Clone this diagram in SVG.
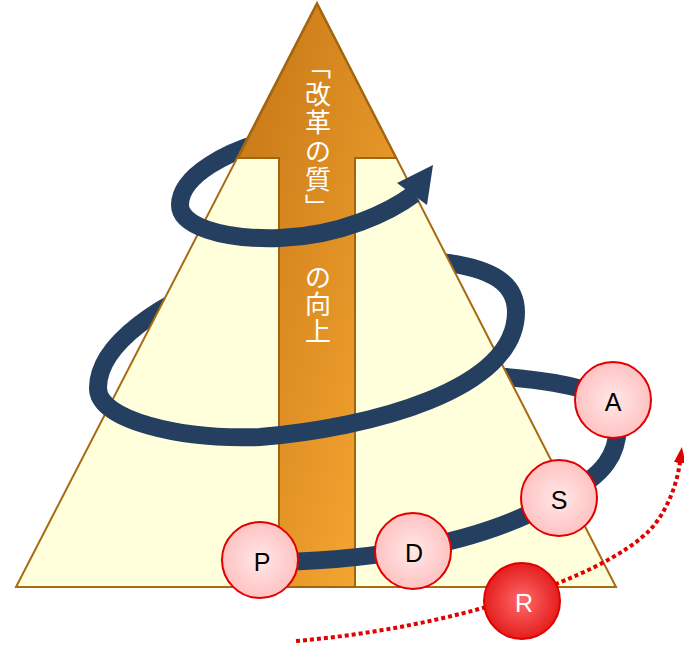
<svg xmlns="http://www.w3.org/2000/svg" width="684" height="653" viewBox="0 0 684 653">
<style>
.band{fill:none;stroke:#243F60;stroke-width:18;stroke-linecap:butt}
.node{stroke:#E00000;stroke-width:2}
.lbl{font-family:"Liberation Sans",Arial,sans-serif;font-size:25px;text-anchor:middle;fill:#000}
.vt{font-family:"Noto Sans CJK JP","Noto Sans CJK SC",sans-serif;font-size:26px;fill:#fff;writing-mode:vertical-rl;font-feature-settings:"vert" 0}
</style>
<defs>
<linearGradient id="og" x1="0" y1="0" x2="1" y2="1">
<stop offset="0" stop-color="#C47414"/>
<stop offset="1" stop-color="#FBAC34"/>
</linearGradient>
<radialGradient id="pg" cx="0.5" cy="0.5" r="0.5">
<stop offset="0" stop-color="#FFE8E8"/>
<stop offset="1" stop-color="#FFC2C2"/>
</radialGradient>
<radialGradient id="rg" cx="0.5" cy="0.5" r="0.5">
<stop offset="0" stop-color="#FF6A6A"/>
<stop offset="1" stop-color="#E41E1E"/>
</radialGradient>
<marker id="ah" markerUnits="userSpaceOnUse" markerWidth="18" markerHeight="12" refX="1" refY="6" orient="auto">
<path d="M0,0 L16,6 L0,12 z" fill="#E00000"/>
</marker>
</defs>
<g id="connectors">
<g id="spiral-back">
<path class="band" d="M613,400 C580,385 540,378 460,374"/>
<path class="band" d="M240,275 C160,300 98,345 98,388"/>
<path class="band" d="M516,312 C516,285 495,268 440,262 L400,258"/>
<path class="band" d="M270,140 C230,150 180,175 180,205"/>
</g>
</g>
<g id="pyramid">
<polygon points="317,3 616,587 16,587" fill="#FFFFDC" stroke="#A86A12" stroke-width="2" stroke-linejoin="miter"/>
</g>
<g id="arrow">
<polygon points="317,4 396,158 355,158 355,587 279,587 279,158 238,158" fill="url(#og)" stroke="#A0650F" stroke-width="2"/>
<text class="vt" x="318" y="53" letter-spacing="2.3">「改革の質」</text>
<text class="vt" x="318" y="264" letter-spacing="1">の向上</text>
</g>
<g id="spiral-front">
<path class="band" d="M260,562 C340,562 470,552 559,498 C597,480 630,455 613,400"/>
<path class="band" d="M98,388 C98,420 180,440 260,437 C370,428 516,390 516,312"/>
<path class="band" d="M180,205 C180,225 220,240 280,238 C340,236 390,212 414,194"/>
<polygon points="433,165 397,183 427,205" fill="#243F60"/>
</g>
<g id="cycle-arrow">
<path d="M296,641 C450,628 600,580 650,530 C670,508 678,478 680,462" fill="none" stroke="#E00000" stroke-width="4" stroke-dasharray="4 3" marker-end="url(#ah)"/>
</g>
<g id="node-P"><circle class="node" cx="260" cy="560" r="38" fill="url(#pg)"/><text class="lbl" x="262" y="571">P</text></g>
<g id="node-D"><circle class="node" cx="413" cy="551" r="38" fill="url(#pg)"/><text class="lbl" x="414" y="562">D</text></g>
<g id="node-S"><circle class="node" cx="559" cy="498" r="38" fill="url(#pg)"/><text class="lbl" x="559" y="509">S</text></g>
<g id="node-A"><circle class="node" cx="613" cy="400" r="38" fill="url(#pg)"/><text class="lbl" x="613" y="411">A</text></g>
<g id="node-R"><circle class="node" cx="522" cy="601" r="38" fill="url(#rg)" stroke="#D00000"/><text class="lbl" x="524" y="612" style="fill:#fff">R</text></g>
</svg>
